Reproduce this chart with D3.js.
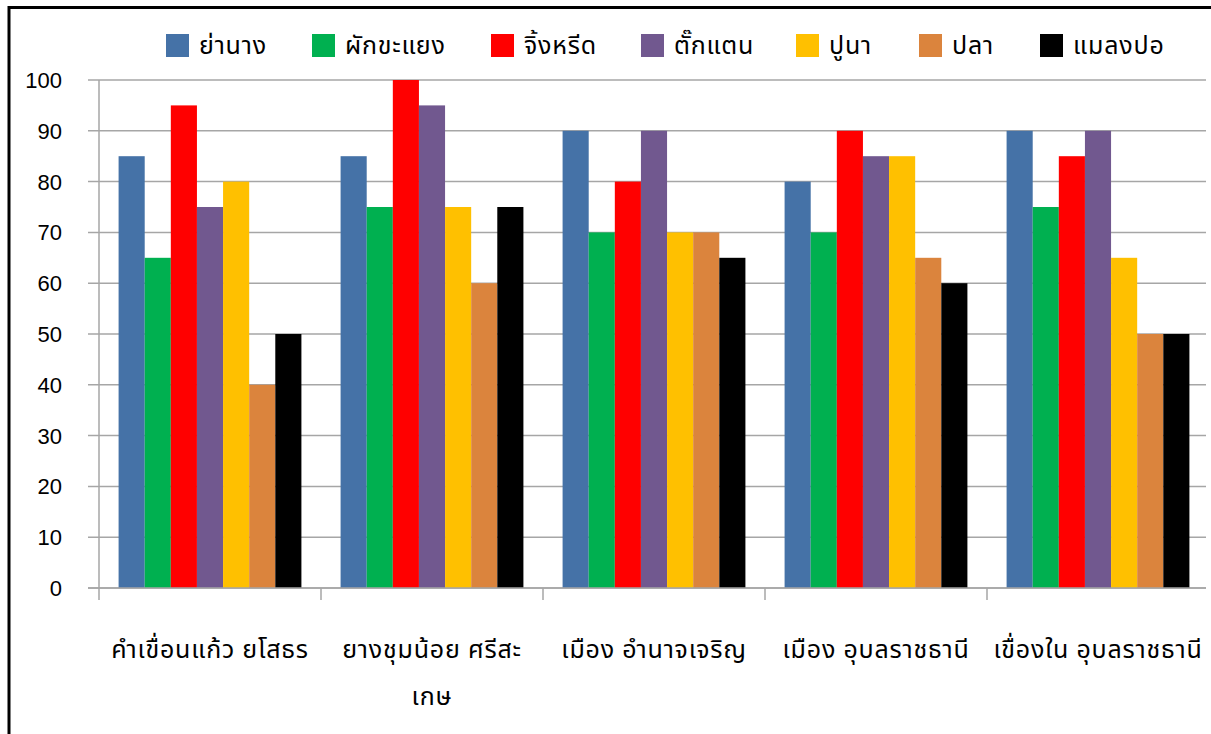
<!DOCTYPE html>
<html>
<head>
<meta charset="utf-8">
<script src="https://cdn.jsdelivr.net/npm/d3@7"></script>
<style>
  html, body { margin: 0; padding: 0; background: #fff; }
  svg { display: block; }
  .thai { font-family: Tahoma, "Noto Sans Thai", "Noto Sans Thai UI", "Loma", "Garuda", "Noto Sans", sans-serif; }
</style>
</head>
<body>
<svg id="chart" width="1211" height="734"></svg>
<script>
// Districts along the x axis (each may wrap onto a second line)
const categories = [
  ["คำเขื่อนแก้ว ยโสธร"],
  ["ยางชุมน้อย ศรีสะ", "เกษ"],
  ["เมือง อำนาจเจริญ"],
  ["เมือง อุบลราชธานี"],
  ["เขื่องใน อุบลราชธานี"]
];

// Insect / food species shown in the legend
const seriesNames = ["ย่านาง", "ผักขะแยง", "จิ้งหรีด", "ตั๊กแตน", "ปูนา", "ปลา", "แมลงปอ"];
const seriesColors = ["#4572A7", "#00B050", "#FF0000", "#71588F", "#FFC000", "#DB843D", "#000000"];

// Values per series, one entry per district
const yanang    = [85, 85, 90, 80, 90];
const phakkhayaeng = [65, 75, 70, 70, 75];
const jingreed  = [95, 100, 80, 90, 85];
const takkataen = [75, 95, 90, 85, 90];
const puna      = [80, 75, 70, 85, 65];
const pla       = [40, 60, 70, 65, 50];
const malaengpo = [50, 75, 65, 60, 50];
const seriesValues = [yanang, phakkhayaeng, jingreed, takkataen, puna, pla, malaengpo];

const yTicks = [0, 10, 20, 30, 40, 50, 60, 70, 80, 90, 100];

const svg = d3.select("#chart");

// Outer frame (top and left edges are visible)
svg.append("rect")
  .attr("x", 9).attr("y", 7.5)
  .attr("width", 1230).attr("height", 760)
  .attr("fill", "none").attr("stroke", "#000").attr("stroke-width", 3);

const plot = { left: 99, right: 1209, top: 80, bottom: 588 };

const x0 = d3.scaleBand()
  .domain(d3.range(categories.length))
  .range([plot.left, plot.right])
  .paddingInner(0).paddingOuter(0);

const groupPad = 1.5 / 8.5; // gap between groups = 150% of a bar width
const x1 = d3.scaleBand()
  .domain(d3.range(seriesNames.length))
  .range([0, x0.bandwidth() * (1 - groupPad)]);

const y = d3.scaleLinear().domain([0, 100]).range([plot.bottom, plot.top]);

// Horizontal gridlines with short ticks on the left
const grid = svg.append("g");
grid.selectAll("line")
  .data(yTicks)
  .join("line")
  .attr("x1", 88).attr("x2", 1206)
  .attr("y1", d => y(d)).attr("y2", d => y(d))
  .attr("stroke", "#a6a6a6").attr("stroke-width", 1.5);

// Vertical axis line
svg.append("line")
  .attr("x1", plot.left).attr("x2", plot.left)
  .attr("y1", y(100)).attr("y2", plot.bottom + 12)
  .attr("stroke", "#a6a6a6").attr("stroke-width", 1.5);

// Y tick labels
svg.append("g").selectAll("text")
  .data(yTicks)
  .join("text")
  .attr("x", 62)
  .attr("y", d => y(d))
  .attr("dy", "0.36em")
  .attr("text-anchor", "end")
  .attr("font-family", "Liberation Sans, Arial, sans-serif")
  .attr("font-size", 22)
  .attr("fill", "#000")
  .text(d => d);

// Bars
const groups = svg.append("g").selectAll("g")
  .data(categories.map((c, i) => i))
  .join("g")
  .attr("transform", i => `translate(${x0(i) + x0.bandwidth() * groupPad / 2},0)`);

groups.selectAll("rect")
  .data(i => seriesValues.map((vals, s) => ({ s, v: vals[i] })))
  .join("rect")
  .attr("x", d => x1(d.s))
  .attr("width", x1.bandwidth())
  .attr("y", d => y(d.v))
  .attr("height", d => y(0) - y(d.v))
  .attr("fill", d => seriesColors[d.s]);

// Category axis line and separators
svg.append("line")
  .attr("x1", 88).attr("x2", 1206)
  .attr("y1", plot.bottom).attr("y2", plot.bottom)
  .attr("stroke", "#a6a6a6").attr("stroke-width", 1.5);

svg.append("g").selectAll("line")
  .data(d3.range(1, categories.length))
  .join("line")
  .attr("x1", i => x0(i)).attr("x2", i => x0(i))
  .attr("y1", plot.bottom).attr("y2", plot.bottom + 12)
  .attr("stroke", "#a6a6a6").attr("stroke-width", 1.5);

// Category labels
const catLabels = svg.append("g").selectAll("text")
  .data(categories)
  .join("text")
  .attr("class", "thai")
  .attr("text-anchor", "middle")
  .attr("font-size", 25)
  .attr("letter-spacing", 0.8)
  .attr("fill", "#000")
  .attr("x", (d, i) => x0(i) + x0.bandwidth() / 2)
  .attr("y", 658);
catLabels.selectAll("tspan")
  .data(d => d)
  .join("tspan")
  .attr("x", function () { return d3.select(this.parentNode).attr("x"); })
  .attr("dy", (d, j) => j === 0 ? 0 : 47)
  .text(d => d);

// Legend
const legendX = [166, 312, 491, 641, 796, 919, 1040];
const legend = svg.append("g").selectAll("g")
  .data(seriesNames)
  .join("g")
  .attr("transform", (d, i) => `translate(${legendX[i]},34)`);
legend.append("rect")
  .attr("width", 23).attr("height", 23)
  .attr("fill", (d, i) => seriesColors[i]);
legend.append("text")
  .attr("class", "thai")
  .attr("x", 33).attr("y", 20)
  .attr("font-size", 25)
  .attr("letter-spacing", 0.8)
  .attr("fill", "#000")
  .text(d => d);
</script>
</body>
</html>
